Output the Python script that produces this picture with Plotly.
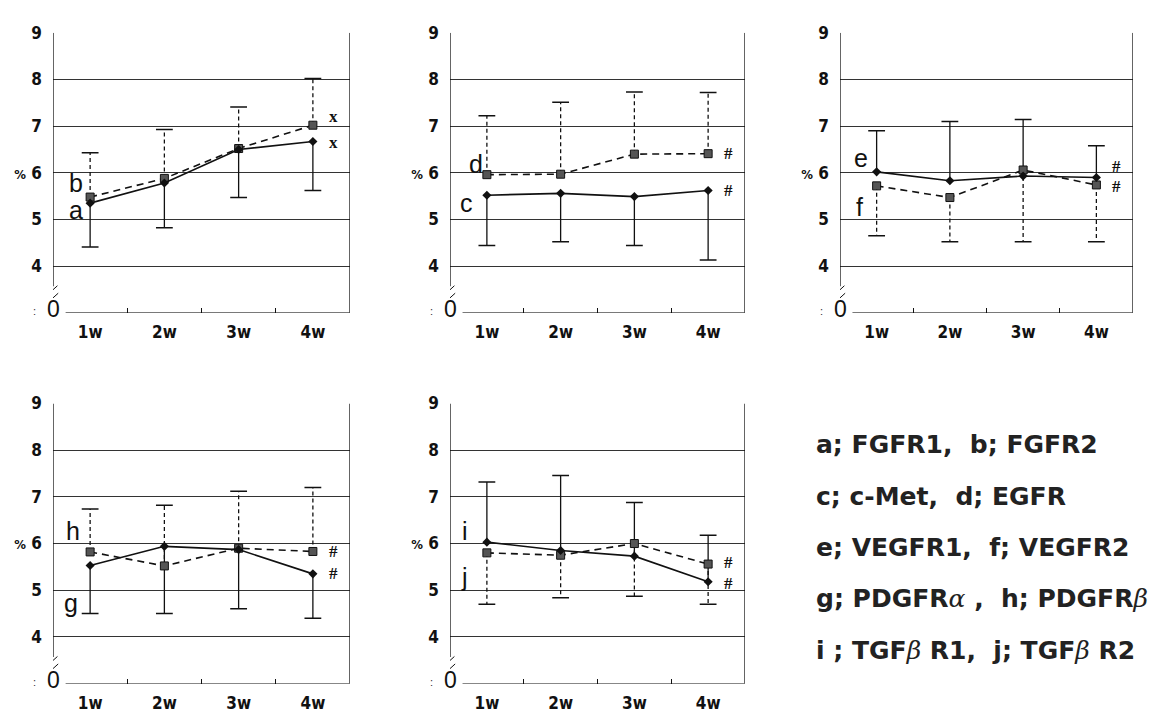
import plotly.graph_objects as go

# ---------------- data ----------------
weeks = ["1w", "2w", "3w", "4w"]
y_tickvals = [4, 5, 6, 7, 8, 9]
y_ticktext = ["4", "5", "<span style='font-size:13px'>%</span> 6", "7", "8", "9"]

# panel 1 : a FGFR1 (solid, lower SD), b FGFR2 (dashed, upper SD)
fgfr1 = [5.35, 5.78, 6.50, 6.67]
fgfr1_sd_end = [4.41, 4.82, 5.47, 5.62]
fgfr2 = [5.48, 5.88, 6.52, 7.02]
fgfr2_sd_end = [6.43, 6.93, 7.41, 8.02]
# panel 2 : c c-Met (solid, lower), d EGFR (dashed, upper)
cmet = [5.52, 5.56, 5.49, 5.62]
cmet_sd_end = [4.44, 4.52, 4.44, 4.13]
egfr = [5.96, 5.97, 6.40, 6.41]
egfr_sd_end = [7.22, 7.51, 7.73, 7.72]
# panel 3 : e VEGFR1 (solid, upper), f VEGFR2 (dashed, lower)
vegfr1 = [6.02, 5.83, 5.93, 5.90]
vegfr1_sd_end = [6.90, 7.10, 7.14, 6.58]
vegfr2 = [5.72, 5.47, 6.06, 5.74]
vegfr2_sd_end = [4.65, 4.52, 4.52, 4.52]
# panel 4 : g PDGFRa (solid, lower), h PDGFRb (dashed, upper)
pdgfra = [5.53, 5.94, 5.87, 5.35]
pdgfra_sd_end = [4.50, 4.50, 4.60, 4.40]
pdgfrb = [5.82, 5.52, 5.90, 5.83]
pdgfrb_sd_end = [6.74, 6.82, 7.12, 7.20]
# panel 5 : i TGFbR1 (solid, upper), j TGFbR2 (dashed, lower)
tgfbr1 = [6.03, 5.85, 5.73, 5.18]
tgfbr1_sd_end = [7.32, 7.46, 6.88, 6.18]
tgfbr2 = [5.80, 5.75, 6.00, 5.56]
tgfbr2_sd_end = [4.70, 4.84, 4.87, 4.70]

GREEK = "<span style='font-family:DejaVu Serif;font-style:italic;font-weight:normal'>{}</span>"
legend_lines = [
    "a; FGFR1,  b; FGFR2",
    "c; c-Met,  d; EGFR",
    "e; VEGFR1,  f; VEGFR2",
    "g; PDGFR" + GREEK.format("\u03b1") + " ,  h; PDGFR" + GREEK.format("\u03b2"),
    "i ; TGF" + GREEK.format("\u03b2") + " R1,  j; TGF" + GREEK.format("\u03b2") + " R2",
]

panels = [
    dict(solid=fgfr1, solid_sd=fgfr1_sd_end, dash=fgfr2, dash_sd=fgfr2_sd_end,
         sl="a", dl="b", mark="x",
         sl_pos=(-0.19, 5.20), dl_pos=(-0.19, 5.78), mark_y=(6.65, 7.2)),
    dict(solid=cmet, solid_sd=cmet_sd_end, dash=egfr, dash_sd=egfr_sd_end,
         sl="c", dl="d", mark="#",
         sl_pos=(-0.27, 5.35), dl_pos=(-0.15, 6.19), mark_y=(5.62, 6.41)),
    dict(solid=vegfr1, solid_sd=vegfr1_sd_end, dash=vegfr2, dash_sd=vegfr2_sd_end,
         sl="e", dl="f", mark="#",
         sl_pos=(-0.21, 6.32), dl_pos=(-0.23, 5.26), mark_y=(6.14, 5.71)),
    dict(solid=pdgfra, solid_sd=pdgfra_sd_end, dash=pdgfrb, dash_sd=pdgfrb_sd_end,
         sl="g", dl="h", mark="#",
         sl_pos=(-0.26, 4.73), dl_pos=(-0.23, 6.27), mark_y=(5.35, 5.83)),
    dict(solid=tgfbr1, solid_sd=tgfbr1_sd_end, dash=tgfbr2, dash_sd=tgfbr2_sd_end,
         sl="i", dl="j", mark="#",
         sl_pos=(-0.30, 6.27), dl_pos=(-0.30, 5.28), mark_y=(5.15, 5.6)),
]

# ---------------- layout geometry ----------------
W, H = 1165, 714
cols_px = [(45, 342), (442, 737), (832, 1125)]
rows_px = [(15, 299), (391, 675)]
cells = [(0, 0), (0, 1), (0, 2), (1, 0), (1, 1)]

TICKFONT = dict(family="DejaVu Sans Condensed, Liberation Sans Narrow, sans-serif",
                size=17, color="#111", weight="bold")

fig = go.Figure()
layout = dict(width=W, height=H, margin=dict(l=0, r=0, t=0, b=0),
              paper_bgcolor="white", plot_bgcolor="white", showlegend=False)
shapes = []
annotations = []
xpos = list(range(len(weeks)))


def err_segments(vals, ends):
    xs, ys = [], []
    for i, (v, e) in enumerate(zip(vals, ends)):
        xs += [i, i, None]
        ys += [v, e, None]
    return xs, ys


for k, (p, (r, c)) in enumerate(zip(panels, cells)):
    n = k + 1
    xa = "x" if n == 1 else f"x{n}"
    ya = "y" if n == 1 else f"y{n}"
    x0, x1 = cols_px[c]
    t0, t1 = rows_px[r]
    layout["xaxis" if n == 1 else f"xaxis{n}"] = dict(
        domain=[x0 / W, x1 / W], anchor=ya, range=[-0.5, 3.5],
        tickvals=xpos, ticktext=weeks, ticks="", showgrid=False, zeroline=False,
        showline=False, tickfont=TICKFONT, ticklabelstandoff=7,
        minor=dict(tickmode="array", tickvals=[0.5, 1.5, 2.5], ticks="inside",
                   ticklen=5, tickcolor="#111", tickwidth=1, showgrid=False),
        fixedrange=True)
    layout["yaxis" if n == 1 else f"yaxis{n}"] = dict(
        domain=[1 - t1 / H, 1 - t0 / H], anchor=xa, range=[3, 9],
        tickvals=y_tickvals, ticktext=y_ticktext, ticks="", showgrid=True,
        gridcolor="#333", gridwidth=1, zeroline=False, showline=False,
        tickfont=TICKFONT, ticklabelstandoff=10, fixedrange=True)

    # frame lines (axis with break)
    line = dict(color="#111", width=1.3)
    shapes += [
        dict(type="line", xref=xa, yref=ya, x0=-0.5, x1=-0.5, y0=3.57, y1=9, line=line),
        dict(type="line", xref=xa, yref=ya, x0=3.5, x1=3.5, y0=3, y1=9, line=line),
        dict(type="line", xref=xa, yref=ya, x0=-0.33, x1=3.5, y0=3, y1=3, line=line),
        dict(type="line", xref=xa, yref=ya, x0=-0.58, x1=-0.44, y0=3.38, y1=3.58,
             line=dict(color="#111", width=1)),
        dict(type="line", xref=xa, yref=ya, x0=-0.57, x1=-0.43, y0=3.22, y1=3.42,
             line=dict(color="#111", width=1)),
    ]
    annotations += [
        dict(xref=xa, yref=ya, x=-0.5, y=3, text="0", showarrow=False,
             xanchor="center", yanchor="middle", yshift=4,
             font=dict(family="Liberation Sans, Arial, sans-serif", size=23, color="#111")),
        dict(xref=xa, yref=ya, x=-0.5, y=3, text=":", showarrow=False,
             xanchor="center", yanchor="middle", xshift=-19, yshift=2,
             font=dict(family="Liberation Sans, Arial, sans-serif", size=11, color="#333")),
    ]

    # error bars
    for vals, ends, dash in ((p["solid"], p["solid_sd"], "solid"),
                             (p["dash"], p["dash_sd"], "4px,3px")):
        ex, ey = err_segments(vals, ends)
        fig.add_trace(go.Scatter(x=ex, y=ey, mode="lines", xaxis=xa, yaxis=ya,
                                 line=dict(color="#111", width=1.3, dash=dash),
                                 hoverinfo="skip"))
        fig.add_trace(go.Scatter(x=xpos, y=ends, mode="markers", xaxis=xa, yaxis=ya,
                                 marker=dict(symbol="line-ew", size=12,
                                             line=dict(color="#111", width=1.5)),
                                 hoverinfo="skip"))
    # series lines
    fig.add_trace(go.Scatter(x=xpos, y=p["dash"], mode="lines+markers", xaxis=xa, yaxis=ya,
                             line=dict(color="#111", width=1.6, dash="7px,5px"),
                             marker=dict(symbol="square", size=8, color="#555",
                                         line=dict(color="#111", width=1))))
    fig.add_trace(go.Scatter(x=xpos, y=p["solid"], mode="lines+markers", xaxis=xa, yaxis=ya,
                             line=dict(color="#111", width=1.6),
                             marker=dict(symbol="diamond", size=7, color="#111")))

    lab_font = dict(family="Liberation Sans, Arial, sans-serif", size=25, color="#111")
    annotations += [
        dict(xref=xa, yref=ya, x=p["sl_pos"][0], y=p["sl_pos"][1], text=p["sl"],
             showarrow=False, xanchor="center", yanchor="middle", font=lab_font),
        dict(xref=xa, yref=ya, x=p["dl_pos"][0], y=p["dl_pos"][1], text=p["dl"],
             showarrow=False, xanchor="center", yanchor="middle", font=lab_font),
    ]
    for my in p["mark_y"]:
        annotations.append(dict(xref=xa, yref=ya, x=3.28, y=my, text=p["mark"],
                                showarrow=False, xanchor="center", yanchor="middle",
                                font=dict(family="Liberation Serif, DejaVu Serif, serif",
                                          size=17, color="#111", weight="bold")))

# legend text block
for i, t in enumerate(legend_lines):
    annotations.append(dict(xref="paper", yref="paper", x=806 / W,
                            y=1 - (433 + i * 52) / H, text=t, showarrow=False,
                            xanchor="left", yanchor="middle",
                            font=dict(family="DejaVu Sans, sans-serif",
                                      size=25, color="#222", weight="bold")))

layout["shapes"] = shapes
layout["annotations"] = annotations
fig.update_layout(**layout)
fig.write_html("out.html")
